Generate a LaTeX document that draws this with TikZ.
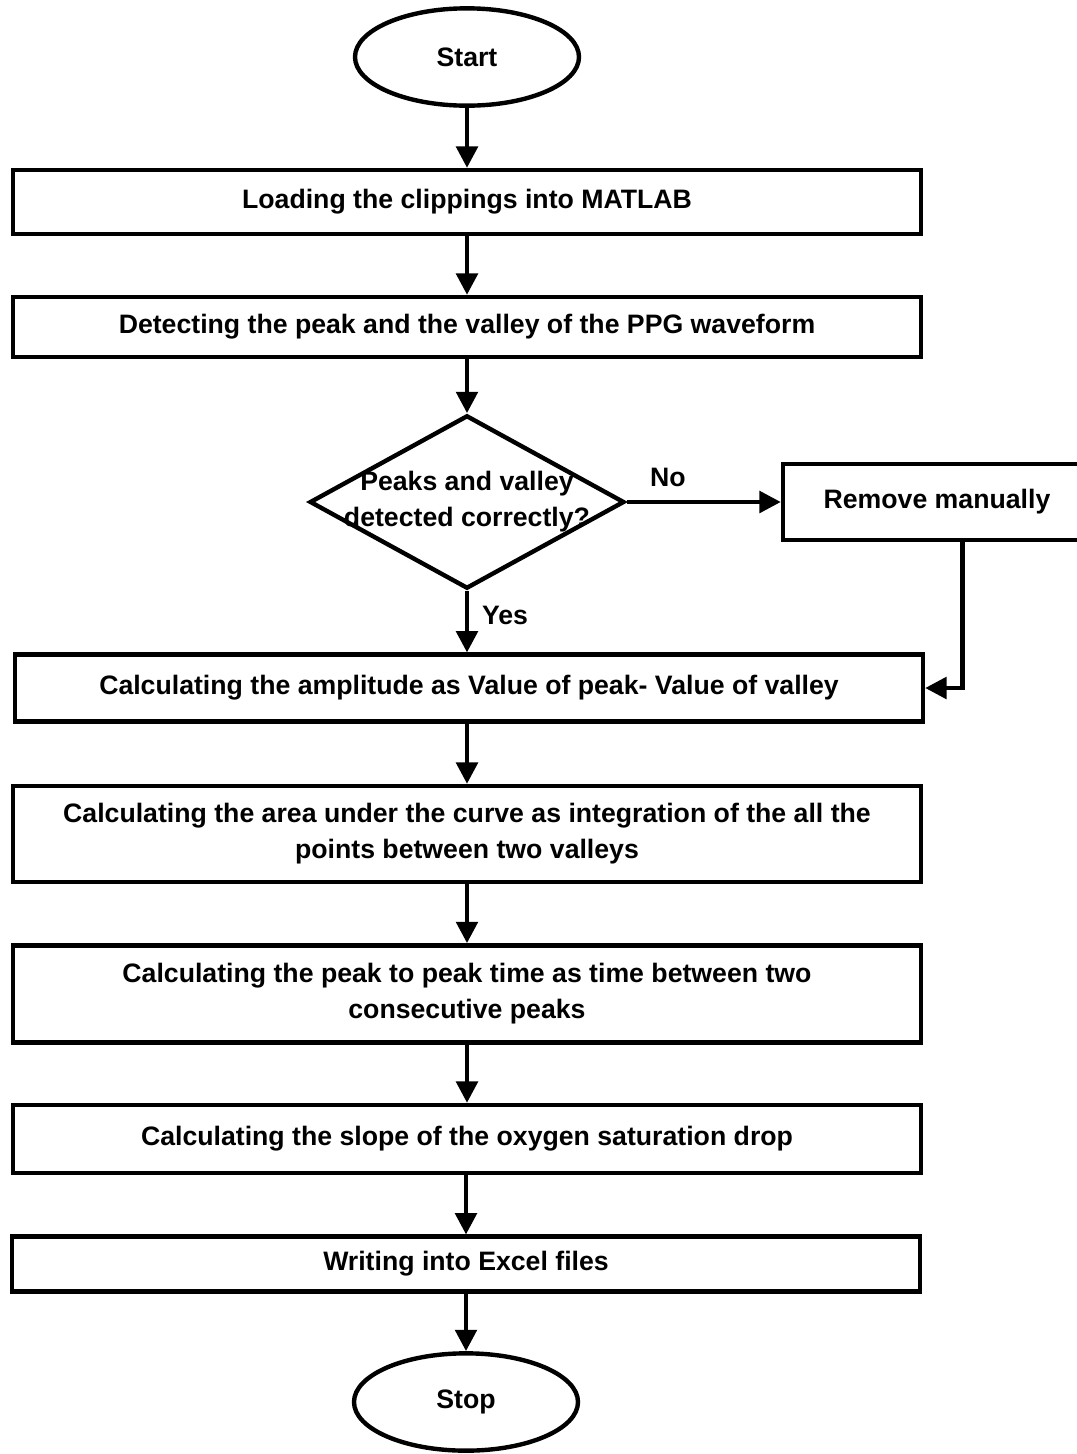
\documentclass[tikz,border=0pt]{standalone}
\usepackage{fontspec}
\setmainfont{Liberation Sans}
\usetikzlibrary{shapes.geometric, arrows.meta}

\begin{document}
\begin{tikzpicture}[x=0.75pt, y=-0.75pt, line width=3.3pt]
\tikzset{ >={Triangle[length=16pt, width=16pt]},
  every node/.style={font=\fontsize{20pt}{27pt}\selectfont\bfseries},
  proc/.style={draw, rectangle, minimum width=681pt, align=center, inner sep=0pt},
  term/.style={draw, ellipse, minimum width=168pt, minimum height=73pt},
  decide/.style={draw, diamond, minimum width=236pt, minimum height=130pt, inner sep=0pt},
}

\useasboundingbox (0,0) rectangle (1076,1454);
%\draw [lightgray, dashed](0,0) grid[step=100] (1076,1454);

\node [term] (start) at (467,57) {Start};
\node [proc, minimum height=48pt] (load)   at (467,202) {Loading the clippings into MATLAB};
\node [proc, minimum height=45pt] (detect) at (467,327) {Detecting the peak and the valley of the PPG waveform};
\node [decide, label={[align=center]center:Peaks and valley\\detected correctly?}] (dec) at (467,502) {};
\node [draw, minimum width=231pt, minimum height=57pt] (rm) at (937,502) {Remove manually};
\node [proc, minimum height=50pt] (amp)    at (469,688) {Calculating the amplitude as Value of peak- Value of valley};
\node [proc, minimum height=72pt] (area)   at (467,834) {Calculating the area under the curve as integration of the all the\\points between two valleys};
\node [proc, minimum height=73pt] (ptp)    at (467,994) {Calculating the peak to peak time as time between two\\consecutive peaks};
\node [proc, minimum height=51pt] (slope)  at (467,1139) {Calculating the slope of the oxygen saturation drop};
\node [proc, minimum height=41pt] (excel)  at (466,1264) {Writing into Excel files};
\node [term] (stop) at (466,1402) {Stop};

\draw [->] (start)  -- (load);
\draw [->] (load)   -- (detect);
\draw [->] (detect) -- (dec);
\draw [->] (dec)    -- (rm);
\draw [->] (dec)    -- (dec |- amp.north);
\draw [->] ([xshift=19pt]rm.south) |- (amp.east);
\draw [->] (amp.south -| area) -- (area);
\draw [->] (area)   -- (ptp);
\draw [->] (ptp)    -- (slope);
\draw [->] (slope.south -| excel) -- (excel);
\draw [->] (excel)  -- (stop);

\node (no)  at (668,477) {No};
\node (yes) at (505,615) {Yes};
\end{tikzpicture}
\end{document}
